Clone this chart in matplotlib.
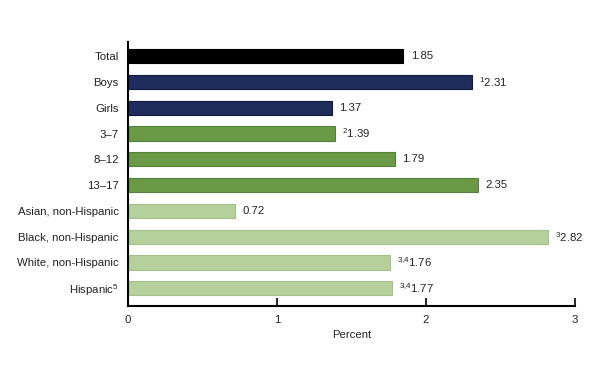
import matplotlib
matplotlib.use("Agg")
import matplotlib.pyplot as plt

plt.rcParams['font.family'] = ['Liberation Sans', 'DejaVu Sans']
plt.rcParams['mathtext.fontset'] = 'custom'
plt.rcParams['mathtext.rm'] = 'Liberation Sans'
plt.rcParams['mathtext.it'] = 'Liberation Sans'

# data
categories = ["Total", "Boys", "Girls", "3\u20137", "8\u201312", "13\u201317",
              "Asian, non-Hispanic", "Black, non-Hispanic", "White, non-Hispanic",
              "Hispanic$^{5}$"]
values = [1.85, 2.31, 1.37, 1.39, 1.79, 2.35, 0.72, 2.82, 1.76, 1.77]
notes = ["", "1", "", "2", "", "", "", "3", "3{,}4", "3{,}4"]
groups = ["total", "sex", "sex", "age", "age", "age", "race", "race", "race", "race"]

fill = {"total": "#000000", "sex": "#1f2d5c", "age": "#6a9a45", "race": "#b6d09c"}
edge = {"total": "#000000", "sex": "#0f1a3a", "age": "#55803a", "race": "#a3c088"}

fig = plt.figure(figsize=(6, 3.69), dpi=100)
ax = fig.add_axes([0.213, 0.17, 0.745, 0.716])

ypos = list(range(len(categories)))
ax.barh(ypos, values, height=0.55,
        color=[fill[g] for g in groups],
        edgecolor=[edge[g] for g in groups], linewidth=0.8)

fs = 8.2
for y, v, n in zip(ypos, values, notes):
    txt = f"{v:.2f}" if not n else f"$^{{{n}}}${v:.2f}"
    ax.text(v + 0.05, y, txt, va="center", ha="left", fontsize=fs, color="#222222")

ax.set_yticks(ypos)
ax.set_yticklabels(categories, fontsize=fs, color="#222222")
ax.tick_params(axis="y", length=0, pad=6.5)
ax.set_ylim(9.7, -0.55)

ax.set_xlim(0, 3)
ax.set_xticks([0, 1, 2, 3])
ax.set_xticklabels(["0", "1", "2", "3"], fontsize=fs, color="#222222")
ax.tick_params(axis="x", direction="in", length=6, width=1.2, pad=6)
ax.set_xlabel("Percent", fontsize=fs, color="#222222", labelpad=4)

for s in ["top", "right"]:
    ax.spines[s].set_visible(False)
ax.spines["left"].set_linewidth(1.5)
ax.spines["bottom"].set_linewidth(1.5)

fig.savefig("out.png", dpi=100)
